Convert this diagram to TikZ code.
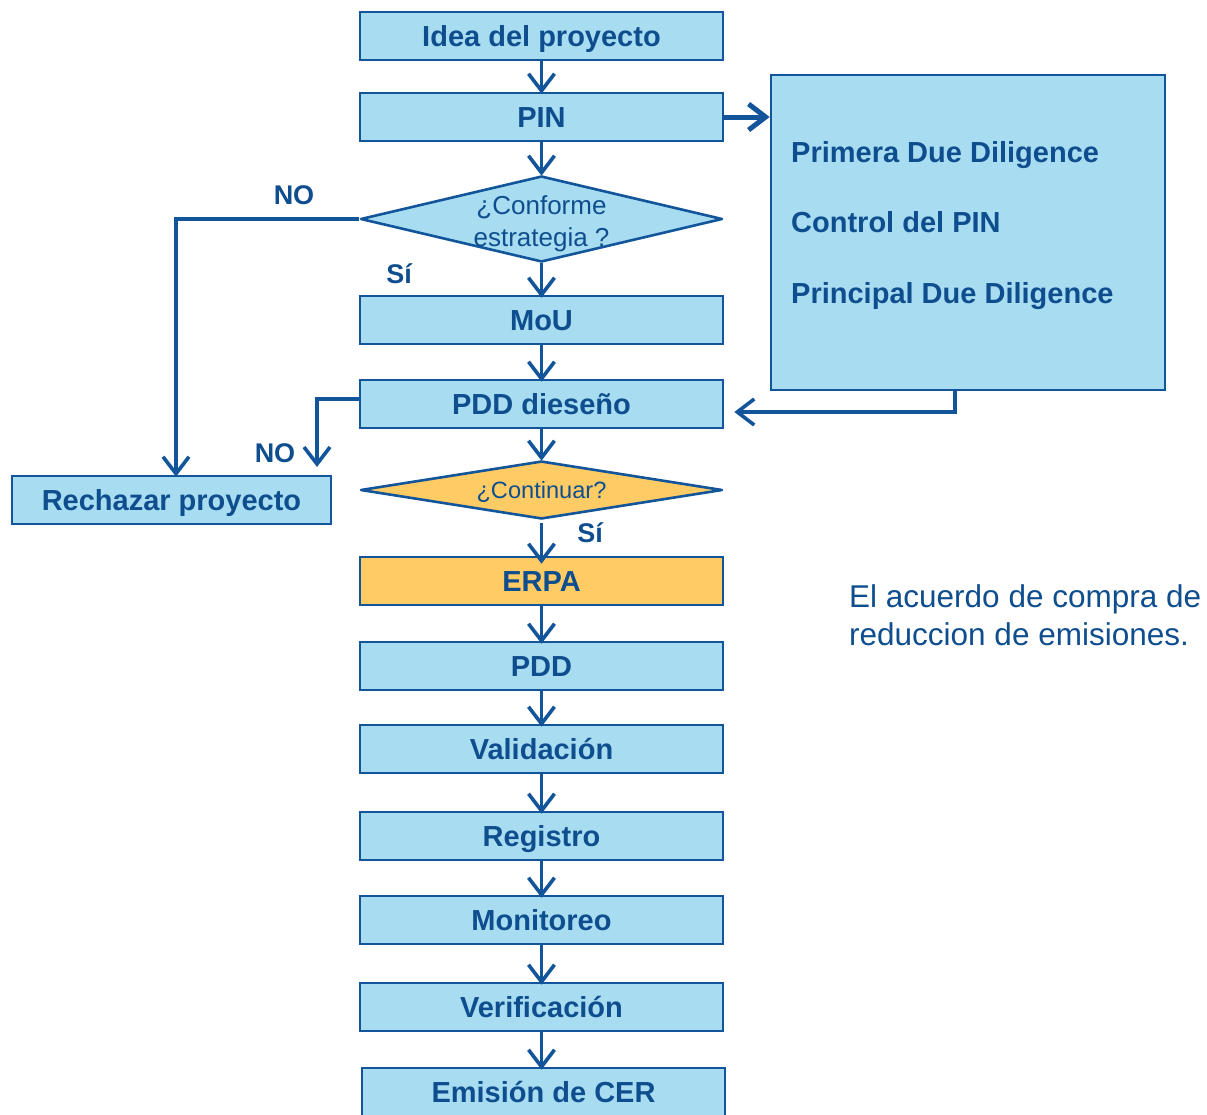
\documentclass[tikz,border=0pt]{standalone}
\usepackage{fontspec}
\setmainfont{Liberation Sans}
\usetikzlibrary{shapes.geometric,arrows.meta}
\definecolor{boxfill}{HTML}{A7DCF1}
\definecolor{boxline}{HTML}{13559A}
\definecolor{ink}{HTML}{0F4E8E}
\definecolor{gold}{HTML}{FFCB65}

\begin{document}
\begin{tikzpicture}[x=1pt,y=-1pt,
  stepbox/.style={draw=boxline, line width=2.6pt, fill=boxfill,
    minimum width=363pt, minimum height=48pt, inner sep=0pt, text=ink,
    text height=20.8pt, text depth=0pt,
    font=\fontsize{29}{34}\selectfont\bfseries},
  decbox/.style={diamond, draw=boxline, line width=2.6pt, fill=boxfill,
    line join=round, inner sep=0pt},
  dectext/.style={text=ink, align=center, inner sep=0pt},
  tag/.style={text=ink, font=\fontsize{27}{32}\selectfont\bfseries, inner sep=0pt},
  sidetext/.style={text=ink, anchor=west, inner sep=0pt,
    text height=20.8pt, text depth=0pt,
    font=\fontsize{29}{34}\selectfont\bfseries},
  arr/.style={draw=boxline, line width=3.6pt,
    -{Straight Barb[length=17pt,width=26pt]}},
  bigarr/.style={arr, line width=5pt},
]
\useasboundingbox (0,0) rectangle (1207,1114);
\clip (0,0) rectangle (1207,1114);

% main column
\node[stepbox] (idea) at (541.5,36) {Idea del proyecto};
\node[stepbox] (pin)  at (541.5,117) {PIN};
\node[decbox, minimum width=362pt, minimum height=86pt] (d1) at (541.5,219) {};
\node[dectext, font=\fontsize{26}{32}\selectfont] (d1t) at (541.5,224) {¿Conforme\\estrategia ?};
\node[stepbox] (mou)  at (541.5,320) {MoU};
\node[stepbox] (pddd) at (541.5,404) {PDD dieseño};
\node[decbox, fill=gold, minimum width=362pt, minimum height=58pt] (d2) at (541.5,490) {};
\node[dectext, font=\fontsize{23.6}{28}\selectfont] (d2t) at (541.5,492) {¿Continuar?};
\node[stepbox, fill=gold] (erpa) at (541.5,581) {ERPA};
\node[stepbox] (pdd)  at (541.5,666) {PDD};
\node[stepbox] (val)  at (541.5,749) {Validación};
\node[stepbox] (reg)  at (541.5,836) {Registro};
\node[stepbox] (mon)  at (541.5,920) {Monitoreo};
\node[stepbox] (ver)  at (541.5,1007) {Verificación};
\node[stepbox] (cer)  at (543.5,1092) {Emisión de CER};

% rejection box
\node[stepbox, minimum width=319pt] (rej) at (171.5,500) {Rechazar proyecto};

% due diligence panel
\node[draw=boxline, line width=2.6pt, fill=boxfill, minimum width=394pt,
  minimum height=315pt, inner sep=0pt] (dd) at (968,232.5) {};
\node[sidetext] (dd1) at (791,152) {Primera Due Diligence};
\node[sidetext] (dd2) at (791,222) {Control del PIN};
\node[sidetext] (dd3) at (791,293) {Principal Due Diligence};

% note on the ERPA
\node[text=ink, align=left, anchor=north west, inner sep=0pt,
  font=\fontsize{31.5}{38}\selectfont] (note) at (849,584)
  {El acuerdo de compra de\\reduccion de emisiones.};

% labels
\node[tag] (no1) at (294,195) {NO};
\node[tag] (si1) at (399,274) {Sí};
\node[tag] (no2) at (275,453) {NO};
\node[tag] (si2) at (590,533) {Sí};

% vertical flow
\draw[arr] (idea.south) -- ([yshift=-2pt]pin.north);
\draw[arr] (pin.south) -- ([yshift=-1pt]d1.north);
\draw[arr] (d1.south) -- ([yshift=-3pt]mou.north);
\draw[arr] (mou.south) -- ([yshift=-3pt]pddd.north);
\draw[arr] (pddd.south) -- ([yshift=-1pt]d2.north);
\draw[arr, shorten <=3pt] (d2.south) -- ([yshift=-8pt]erpa.north);
\draw[arr] (erpa.south) -- ([yshift=-3pt]pdd.north);
\draw[arr] (pdd.south) -- ([yshift=-3pt]val.north);
\draw[arr] (val.south) -- ([yshift=-3pt]reg.north);
\draw[arr] (reg.south) -- ([yshift=-3pt]mon.north);
\draw[arr] (mon.south) -- ([yshift=-3pt]ver.north);
\draw[arr] (ver.south) -- ([yshift=-3pt]ver.south |- cer.north);

% side branches
\draw[bigarr] (pin.east) -- (dd.west |- pin.east);
\coordinate (ret) at (955,412);
\draw[arr] (dd.south -| ret) -- (ret) -- ([xshift=10pt]pddd.east |- ret);
\coordinate (n1) at (176,219);
\draw[arr] (d1.west) -- (n1) -- ([yshift=-2pt]n1 |- rej.north);
\coordinate (n2) at (317,399);
\coordinate (n2e) at (317,467);
\draw[arr] (pddd.west |- n2) -- (n2) -- (n2e);
\end{tikzpicture}
\end{document}
